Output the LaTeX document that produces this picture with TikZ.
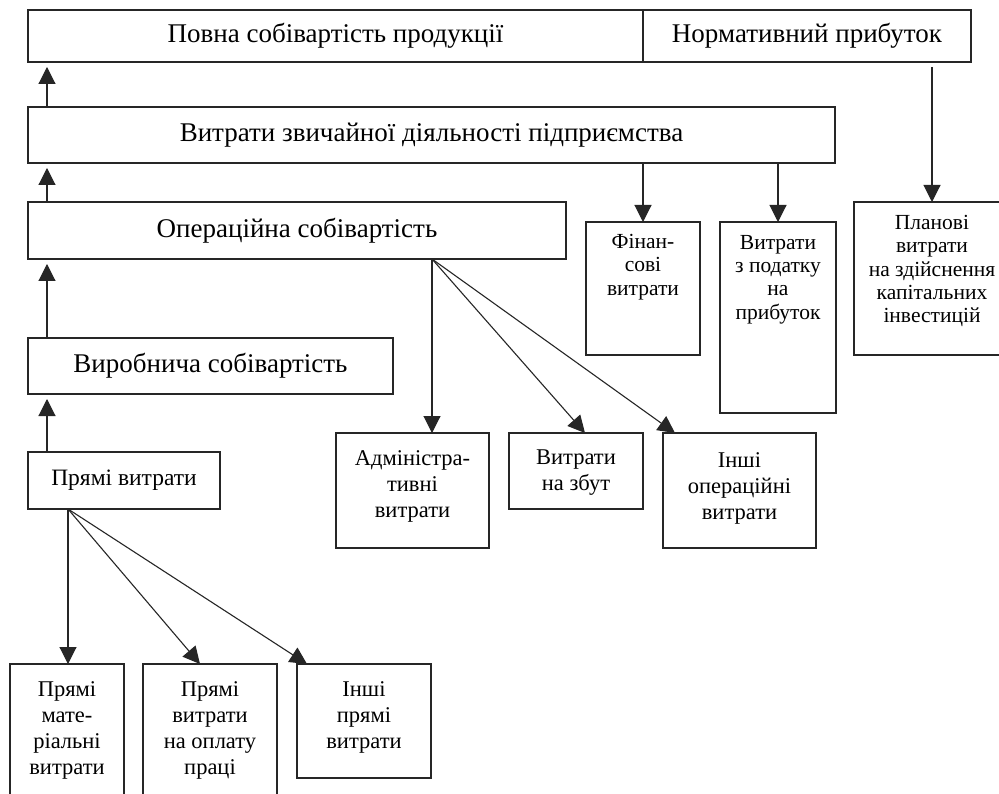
\documentclass[tikz,border=0pt]{standalone}
\usepackage{fontspec}
\setmainfont{Liberation Serif}
\usetikzlibrary{arrows.meta}
\begin{document}
\begin{tikzpicture}[x=1pt,y=-1pt,
  box/.style={draw=black!85,line width=1.1pt,rectangle,inner sep=0pt,outer sep=0pt},
  big/.style={font=\fontsize{27}{30}\selectfont},
  txt/.style={inner sep=0pt,align=center,anchor=north,font=\fontsize{22.5}{26}\selectfont},
  txts/.style={txt,font=\fontsize{21.5}{23.3}\selectfont},
  arr/.style={draw=black!85,line width=1.1pt,-{Triangle[width=17pt,length=17pt]}},
  up/.style={arr,shorten >=5pt}]
\clip (0,0) rectangle (999,794);
\fill[white] (0,0) rectangle (999,794);
% top level boxes
\node[box,big,minimum width=615pt,minimum height=52pt] (full) at (335.5,36) {Повна собівартість продукції};
\node[box,big,minimum width=328pt,minimum height=52pt] (norm) at (807,36) {Нормативний прибуток};
\node[box,big,minimum width=807pt,minimum height=56pt] (ord) at (431.5,135) {Витрати звичайної діяльності підприємства};
\node[box,big,minimum width=538pt,minimum height=57pt] (oper) at (297,230.5) {Операційна собівартість};
\node[box,big,minimum width=365pt,minimum height=56pt] (prod) at (210.5,366) {Виробнича собівартість};
\node[box,font=\fontsize{23.5}{26}\selectfont,minimum width=192pt,minimum height=57pt] (direct) at (124,480.5) {Прямі витрати};
% right column boxes
\node[box,minimum width=114pt,minimum height=133pt] (fin) at (643,288.5) {};
\node[box,minimum width=116pt,minimum height=191pt] (tax) at (778,317.5) {};
\node[box,minimum width=156pt,minimum height=153pt] (plan) at (932,278.5) {};
\node[txts] (fint) at ([yshift=-12pt]fin.north) {Фінан-\\сові\\витрати};
\node[txts] (taxt) at ([yshift=-13pt]tax.north) {Витрати\\з податку\\на\\прибуток};
\node[txts] (plant) at ([yshift=-13pt]plan.north) {Планові\\витрати\\на здійснення\\капітальних\\інвестицій};
% operating expenses
\node[box,minimum width=153pt,minimum height=115pt] (adm) at (412.5,490.5) {};
\node[box,minimum width=134pt,minimum height=76pt] (sales) at (576,471) {};
\node[box,minimum width=153pt,minimum height=115pt] (othop) at (739.5,490.5) {};
\node[txt] (admt) at ([yshift=-17pt]adm.north) {Адміністра-\\тивні\\витрати};
\node[txt] (salest) at ([yshift=-17pt]sales.north) {Витрати\\на збут};
\node[txt] (othopt) at ([yshift=-19pt]othop.north) {Інші\\операційні\\витрати};
% direct expenses
\node[box,minimum width=114pt,minimum height=156pt] (mat) at (67,742) {};
\node[box,minimum width=134pt,minimum height=156pt] (labor) at (210,742) {};
\node[box,minimum width=134pt,minimum height=114pt] (othdir) at (364,721) {};
\node[txt] (matt) at ([yshift=-17pt]mat.north) {Прямі\\мате-\\ріальні\\витрати};
\node[txt] (labort) at ([yshift=-17pt]labor.north) {Прямі\\витрати\\на оплату\\праці};
\node[txt] (othdirt) at ([yshift=-17pt]othdir.north) {Інші\\прямі\\витрати};
% connection points
\coordinate (operout) at ([xshift=404pt]oper.south west);
\coordinate (dirout) at ([xshift=40pt]direct.south west);
\coordinate (normout) at ([xshift=289pt]norm.south west);
% upward arrows
\draw[up] ([xshift=19pt]ord.north west) -- ([xshift=19pt]full.south west);
\draw[up] ([xshift=19pt]oper.north west) -- ([xshift=19pt]ord.south west);
\draw[up] ([xshift=19pt]prod.north west) -- ([xshift=19pt]oper.south west);
\draw[up] ([xshift=19pt]direct.north west) -- ([xshift=19pt]prod.south west);
% downward arrows
\draw[arr,shorten <=5pt] (normout) -- (plan.north);
\draw[arr] (fin.north |- ord.south) -- (fin.north);
\draw[arr] (tax.north |- ord.south) -- (tax.north);
\draw[arr] (operout) -- ([xshift=96pt]adm.north west);
\draw[arr] (operout) -- ([xshift=76pt]sales.north west);
\draw[arr] (operout) -- ([xshift=12pt]othop.north west);
\draw[arr] (dirout) -- (dirout |- mat.north);
\draw[arr] (dirout) -- ([xshift=57pt]labor.north west);
\draw[arr] (dirout) -- ([xshift=10pt]othdir.north west);
\end{tikzpicture}
\end{document}
